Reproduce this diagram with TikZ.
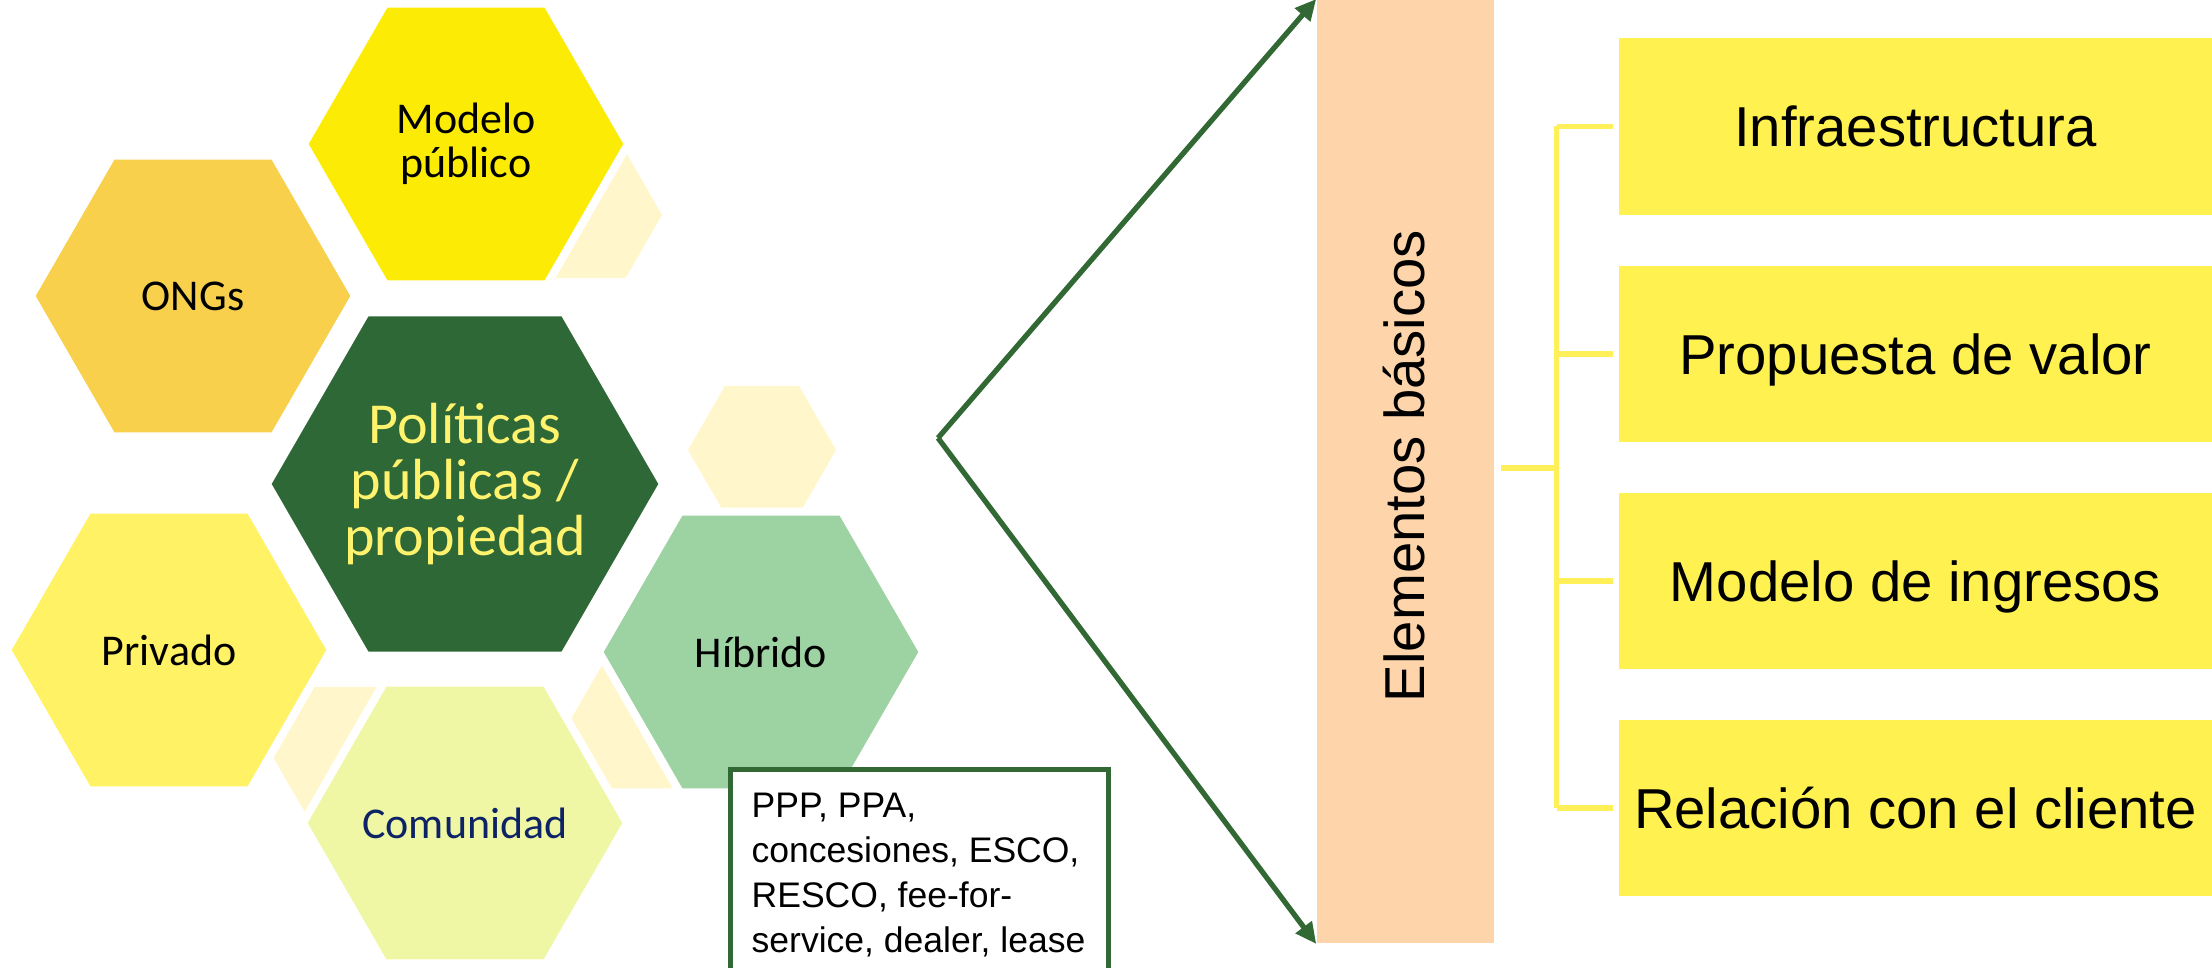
\documentclass[tikz,border=0pt]{standalone}
\usepackage{fontspec}
\setmainfont{Liberation Sans}
\newfontfamily\hexfont{Carlito}
\usetikzlibrary{shapes.geometric,arrows.meta}
\definecolor{cModelo}{HTML}{FCEC05}
\definecolor{cONG}{HTML}{F8D04B}
\definecolor{cPol}{HTML}{2F6837}
\definecolor{cPolTxt}{HTML}{FFF36E}
\definecolor{cPriv}{HTML}{FFF264}
\definecolor{cHib}{HTML}{9DD2A2}
\definecolor{cCom}{HTML}{EFF7A4}
\definecolor{cComTxt}{HTML}{0E2366}
\definecolor{cLight}{HTML}{FFF7CB}
\definecolor{cGreen}{HTML}{316834}
\definecolor{cBar}{HTML}{FED5AB}
\definecolor{cBox}{HTML}{FFF150}
\definecolor{cBrk}{HTML}{FFEF58}
\begin{document}
\begin{tikzpicture}[x=0.01cm,y=-0.01cm,
  hexbase/.style={regular polygon, regular polygon sides=6, inner sep=0pt},
  lighthex/.style={hexbase, fill=cLight, minimum size=#1},
  mainhex/.style={hexbase, draw=white, line width=2.3pt, minimum size=#1},
  hextext/.style={inner sep=0pt, align=center, font=\hexfont\fontsize{12.5}{12.5}\selectfont},
  pppbox/.style={draw=cGreen, fill=white, line width=1.42pt, minimum width=3.785cm,
    minimum height=2.6cm, inner sep=0pt},
  ppptext/.style={inner sep=0pt, align=left, font=\fontsize{10.1}{12.8}\selectfont},
  rbox/.style={fill=cBox, minimum width=5.93cm, minimum height=1.76cm, inner sep=0pt,
    text height=11.5pt, text depth=0pt, font=\fontsize{16}{19}\selectfont},
  barbox/.style={fill=cBar, minimum width=1.77cm, minimum height=9.43cm, inner sep=0pt},
  arr/.style={draw=cGreen, line width=1.5pt, -{Triangle[length=6pt,width=5.5pt]}},
  brk/.style={draw=cBrk, line width=1.55pt}
]
\useasboundingbox (0,0) rectangle (2212,968);
\clip (0,0) rectangle (2212,968);

% light background hexagons
\node[lighthex=1.46cm] (l1) at (589,215) {};
\node[lighthex=1.48cm] (l2) at (762,450) {};
\node[lighthex=1.62cm] (l3) at (354,757) {};
\node[lighthex=1.60cm] (l4) at (651,719) {};

% main hexagons
\node[mainhex=3.24cm, fill=cONG] (ong) at (193,296) {};
\node[mainhex=3.24cm, fill=cModelo] (mod) at (466,144) {};
\node[mainhex=3.96cm, fill=cPol] (pol) at (465,484) {};
\node[mainhex=3.24cm, fill=cPriv] (priv) at (169,650) {};
\node[mainhex=3.24cm, fill=cHib] (hib) at (761,652) {};
\node[mainhex=3.24cm, fill=cCom] (com) at (465,823) {};

% hexagon labels
\node[hextext] (ongT) at (ong.center) {ONGs};
\node[hextext] (modT) at (mod.center) {Modelo\\público};
\node[hextext, text=cPolTxt, font=\hexfont\fontsize{16.5}{16}\selectfont] (polT) at (pol.center)
      {Políticas\\públicas /\\propiedad};
\node[hextext] (privT) at (priv.center) {Privado};
\node[hextext] (hibT) at (hib.center) {Híbrido};
\node[hextext, text=cComTxt] (comT) at (com.center) {Comunidad};

% PPP box
\node[pppbox, anchor=north west] (ppp) at (727.5,767.5) {};
\node[ppptext, anchor=north west] (ppptxt) at (751,792)
  {PPP, PPA,\\concesiones, ESCO,\\RESCO, fee-for-\\service, dealer, lease};

% Elementos basicos bar
\node[barbox] (bar) at (1405.5,471.5) {};
\node[rotate=90, font=\fontsize{16}{19}\selectfont] (ebtxt) at (1404,466) {Elementos básicos};

% arrows
\coordinate (apex) at (938,438);
\draw[arr] (apex) -- (bar.north west);
\draw[arr] (apex) -- (bar.south west);

% right boxes
\node[rbox] (b1) at (1915.5,126.5) {Infraestructura};
\node[rbox] (b2) at (1915.5,354) {Propuesta de valor};
\node[rbox] (b3) at (1915.5,581) {Modelo de ingresos};
\node[rbox] (b4) at (1915.5,808) {Relación con el cliente};

% bracket
\coordinate (brk) at (1556.5,468);
\draw[brk] ([xshift=0.06cm]bar.east |- brk) -- (brk);
\draw[brk] (brk |- b1.west) -- (brk |- b4.west);
\foreach \b in {b1,b2,b3,b4}
  \draw[brk] (brk |- \b.west) -- ([xshift=-0.05cm]\b.west);
\end{tikzpicture}
\end{document}
